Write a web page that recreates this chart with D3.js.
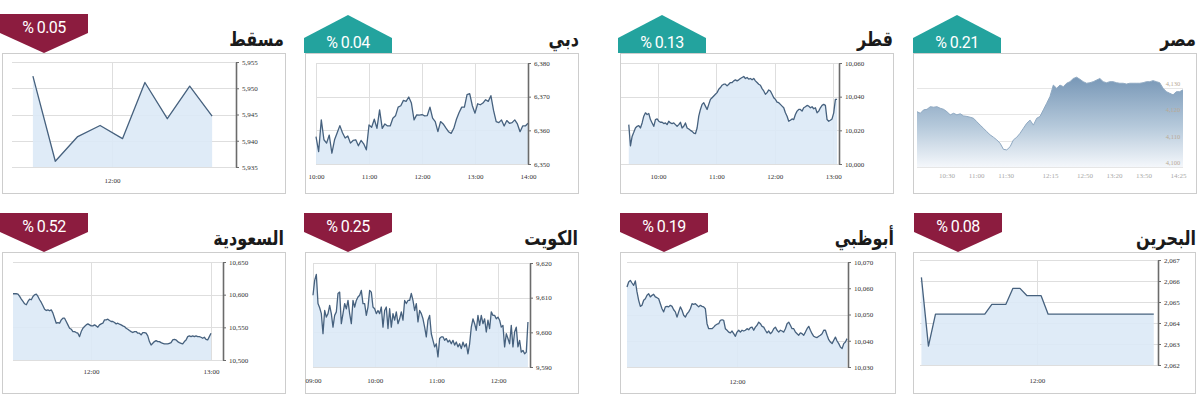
<!DOCTYPE html>
<html>
<head>
<meta charset="utf-8">
<script src="https://cdn.jsdelivr.net/npm/d3@7"></script>
<style>
  body { margin: 0; background: #fff; }
  svg { display: block; }
</style>
</head>
<body>
<script>
// markets, row by row, left to right
var markets = ["مسقط", "دبي", "قطر", "مصر", "السعودية", "الكويت", "أبوظبي", "البحرين"];
var changes = [-0.05, 0.04, 0.13, 0.21, -0.52, -0.25, -0.19, -0.08];

// trading window of each series (first and last reading)
var sessions = [
    ["11:07", "13:07"], ["10:00", "14:00"], ["9:30", "13:04"], ["10:00", "14:30"],
    ["11:21", "13:00"], ["9:00", "12:29"], ["10:00", "14:00"], ["10:38", "13:23"]
];

var xTickLabels = [
    ["12:00"],
    ["10:00", "11:00", "12:00", "13:00", "14:00"],
    ["10:00", "11:00", "12:00", "13:00"],
    ["10:30", "11:00", "11:30", "12:15", "12:50", "13:20", "13:50", "14:25"],
    ["12:00", "13:00"],
    ["09:00", "10:00", "11:00", "12:00"],
    ["12:00"],
    ["12:00"]
];

var yTickValues = [
    [5935, 5940, 5945, 5950, 5955],
    [6350, 6360, 6370, 6380],
    [10000, 10020, 10040, 10060],
    [4100, 4110, 4120, 4130],
    [10500, 10550, 10600, 10650],
    [9590, 9600, 9610, 9620],
    [10030, 10040, 10050, 10060, 10070],
    [2062, 2063, 2064, 2065, 2066, 2067]
];

var muscatValues = [5952.3, 5936.1, 5940.8, 5942.9, 5940.4, 5951.1, 5944.2, 5950.4, 5944.7];

var dubaiValues = [6358.1, 6353.7, 6363.1, 6357.2, 6356.2, 6358.6, 6353.2, 6357.2, 6359.3, 6361.4,
    6359.3, 6357.7, 6358.3, 6356.2, 6357.0, 6357.2, 6355.4, 6357.0, 6356.0, 6354.2,
    6361.6, 6360.9, 6363.3, 6360.6, 6366.1, 6360.6, 6361.9, 6361.3, 6361.3, 6363.6,
    6364.3, 6366.9, 6367.3, 6368.9, 6368.6, 6369.9, 6368.1, 6363.1, 6364.6, 6364.5,
    6364.7, 6364.3, 6364.4, 6366.9, 6363.6, 6362.6, 6359.6, 6362.6, 6361.9, 6360.7,
    6359.6, 6359.1, 6360.6, 6363.3, 6365.3, 6366.9, 6366.9, 6370.6, 6370.9, 6367.3,
    6365.1, 6367.9, 6367.6, 6368.1, 6369.1, 6368.6, 6370.3, 6365.9, 6362.6, 6362.3,
    6363.1, 6361.3, 6362.9, 6362.1, 6362.3, 6363.1, 6361.9, 6359.6, 6361.3, 6361.3, 6362.1];

var qatarValues = [10023.4, 10010.8, 10016.4, 10018.8, 10021.4, 10022.4, 10022.8, 10021.4, 10024.4, 10028.4,
    10030.4, 10029.4, 10030.0, 10026.4, 10024.4, 10022.4, 10026.4, 10026.8, 10025.4, 10024.8,
    10024.8, 10024.0, 10024.4, 10023.4, 10025.4, 10024.4, 10024.0, 10024.4, 10023.4, 10022.4,
    10023.4, 10024.8, 10021.4, 10022.4, 10024.4, 10021.4, 10020.8, 10020.0, 10019.4, 10018.4,
    10018.0, 10021.4, 10028.4, 10032.4, 10035.4, 10036.4, 10034.4, 10032.4, 10035.4, 10038.4,
    10039.4, 10040.4, 10041.4, 10042.4, 10044.4, 10045.4, 10046.8, 10047.4, 10047.4, 10046.4,
    10047.4, 10048.4, 10048.4, 10049.4, 10050.0, 10049.4, 10050.0, 10050.8, 10051.4, 10052.0,
    10050.8, 10051.4, 10050.4, 10050.8, 10050.0, 10050.8, 10049.4, 10048.4, 10047.4, 10046.8,
    10044.8, 10043.4, 10041.4, 10042.4, 10044.0, 10043.4, 10041.4, 10039.4, 10038.4, 10036.8,
    10036.4, 10035.4, 10034.4, 10033.4, 10030.4, 10028.4, 10025.4, 10026.0, 10026.8, 10026.4,
    10029.4, 10031.4, 10032.4, 10032.4, 10031.4, 10033.4, 10034.0, 10034.8, 10034.4, 10033.4,
    10034.0, 10032.8, 10033.4, 10030.4, 10031.4, 10033.4, 10034.8, 10035.4, 10034.8, 10026.4,
    10025.4, 10026.0, 10026.8, 10030.4, 10038.4, 10038.4];

var egyptValues = [4121.0, 4120.4, 4121.7, 4121.9, 4122.9, 4122.7, 4122.9, 4122.3, 4121.9, 4121.0,
    4119.8, 4120.4, 4119.8, 4120.2, 4119.4, 4119.2, 4118.9, 4118.5, 4117.2, 4115.9,
    4114.7, 4113.4, 4112.2, 4111.3, 4110.3, 4109.0, 4106.7, 4106.5, 4107.7, 4110.3,
    4111.3, 4112.8, 4114.7, 4116.6, 4117.8, 4115.9, 4118.5, 4119.2, 4121.7, 4124.2,
    4126.8, 4131.1, 4129.9, 4131.1, 4130.5, 4131.8, 4132.4, 4133.6, 4134.1, 4133.3,
    4132.4, 4131.8, 4132.0, 4132.4, 4133.0, 4133.6, 4132.4, 4132.0, 4132.4, 4132.4,
    4132.0, 4131.8, 4131.8, 4131.5, 4131.8, 4131.8, 4131.8, 4131.8, 4132.0, 4132.4,
    4132.4, 4132.8, 4132.4, 4132.0, 4129.9, 4128.6, 4128.0, 4127.4, 4128.6, 4128.6, 4129.3];

var saudiValues = [10601.4, 10601.4, 10601.4, 10600.9, 10597.3, 10593.2, 10589.6, 10586.0, 10584.5, 10589.6,
    10593.2, 10592.2, 10597.3, 10599.8, 10600.9, 10597.3, 10592.2, 10588.1, 10582.9, 10577.8,
    10575.8, 10576.8, 10575.3, 10576.8, 10571.7, 10564.0, 10556.3, 10557.3, 10556.3, 10561.4,
    10564.0, 10564.0, 10558.9, 10553.8, 10548.7, 10547.1, 10543.5, 10543.5, 10542.0, 10541.0,
    10535.8, 10543.5, 10548.7, 10551.2, 10553.8, 10555.3, 10553.8, 10552.2, 10552.2, 10553.8,
    10552.2, 10550.2, 10553.8, 10555.3, 10556.3, 10561.4, 10561.4, 10562.5, 10560.4, 10558.9,
    10558.9, 10557.3, 10555.3, 10556.3, 10554.8, 10553.8, 10552.2, 10551.2, 10548.7, 10547.1,
    10545.1, 10543.5, 10542.0, 10543.5, 10543.5, 10541.0, 10541.0, 10538.4, 10542.0, 10542.0,
    10541.0, 10536.9, 10528.2, 10523.0, 10525.6, 10528.2, 10529.7, 10528.2, 10528.2, 10526.6,
    10525.6, 10524.6, 10524.6, 10524.6, 10525.6, 10526.6, 10530.7, 10531.7, 10530.7, 10528.2,
    10526.6, 10525.6, 10524.6, 10528.2, 10530.7, 10535.8, 10536.9, 10535.8, 10536.9, 10535.8,
    10536.9, 10535.8, 10535.8, 10534.8, 10533.3, 10534.8, 10531.7, 10530.7, 10535.8, 10541.0];

var kuwaitValues = [9610.7, 9615.0, 9616.7, 9608.3, 9607.1, 9605.4, 9599.6, 9606.3, 9604.4, 9605.4,
    9607.8, 9605.4, 9601.5, 9604.9, 9605.9, 9611.2, 9611.6, 9602.5, 9605.4, 9608.3,
    9606.8, 9609.2, 9605.4, 9602.5, 9609.2, 9607.3, 9609.2, 9610.2, 9610.7, 9612.1,
    9608.3, 9608.3, 9604.9, 9607.3, 9612.1, 9611.6, 9607.3, 9606.8, 9605.4, 9606.3,
    9605.4, 9607.3, 9601.5, 9606.3, 9607.3, 9601.1, 9606.8, 9601.5, 9605.4, 9603.5,
    9605.9, 9602.5, 9603.9, 9605.9, 9603.5, 9609.2, 9608.3, 9609.2, 9609.2, 9611.2,
    9609.2, 9606.3, 9608.3, 9603.0, 9606.3, 9605.4, 9603.9, 9601.5, 9598.7, 9603.5,
    9604.9, 9599.6, 9597.7, 9595.8, 9596.7, 9592.9, 9598.2, 9598.7, 9598.7, 9597.7,
    9598.2, 9597.2, 9597.7, 9596.7, 9597.7, 9596.3, 9597.2, 9595.8, 9596.7, 9595.3,
    9597.2, 9595.8, 9596.7, 9593.8, 9596.7, 9601.5, 9603.9, 9602.5, 9600.6, 9604.9,
    9602.0, 9604.9, 9602.5, 9603.9, 9600.1, 9603.5, 9601.1, 9605.9, 9604.9, 9604.9,
    9603.9, 9604.4, 9603.5, 9601.5, 9602.0, 9595.8, 9599.6, 9598.2, 9596.7, 9602.0,
    9595.8, 9600.1, 9601.5, 9595.8, 9597.7, 9594.3, 9594.8, 9593.8, 9594.3, 9603.0];

var abuDhabiValues = [10060.5, 10062.4, 10063.0, 10062.0, 10061.1, 10062.8, 10058.6, 10055.4, 10053.1, 10053.5,
    10055.4, 10056.0, 10057.3, 10057.9, 10056.7, 10057.3, 10057.7, 10056.7, 10056.4, 10056.0,
    10054.1, 10052.2, 10051.0, 10052.9, 10053.1, 10052.9, 10053.5, 10053.1, 10051.8, 10051.0,
    10049.0, 10051.0, 10052.9, 10051.6, 10049.7, 10049.0, 10050.3, 10051.0, 10052.2, 10054.1,
    10053.9, 10054.1, 10053.5, 10052.9, 10053.5, 10053.1, 10052.9, 10052.2, 10046.5, 10044.6,
    10044.6, 10044.6, 10045.2, 10045.9, 10046.3, 10046.5, 10047.8, 10048.0, 10047.8, 10044.6,
    10044.0, 10043.3, 10043.0, 10043.7, 10042.7, 10041.7, 10043.3, 10044.0, 10043.3, 10044.0,
    10043.7, 10044.0, 10044.6, 10044.2, 10045.0, 10045.2, 10044.0, 10045.2, 10045.9, 10047.1,
    10046.5, 10045.5, 10045.2, 10044.0, 10043.0, 10043.7, 10042.7, 10043.3, 10044.6, 10045.2,
    10044.0, 10043.3, 10044.0, 10043.7, 10043.3, 10044.6, 10046.5, 10047.1, 10045.9, 10044.6,
    10044.6, 10043.3, 10042.7, 10042.1, 10043.0, 10042.7, 10042.1, 10043.3, 10044.6, 10045.5,
    10044.0, 10042.7, 10041.7, 10041.4, 10041.2, 10041.7, 10042.1, 10042.7, 10044.0, 10044.0,
    10042.1, 10040.4, 10039.5, 10038.9, 10040.2, 10041.4, 10039.9, 10038.9, 10037.6, 10037.0,
    10038.9, 10039.5, 10040.8];

var bahrainValues = [2066.17, 2062.90,
    2064.42, 2064.42, 2064.42, 2064.42, 2064.42, 2064.42, 2064.42, 2064.42,
    2064.89, 2064.89, 2064.89, 2065.65, 2065.65, 2065.30, 2065.30, 2065.30,
    2064.42, 2064.42, 2064.42, 2064.42, 2064.42, 2064.42, 2064.42, 2064.42,
    2064.42, 2064.42, 2064.42, 2064.42, 2064.42, 2064.42, 2064.42, 2064.42];

var seriesValues = [muscatValues, dubaiValues, qatarValues, egyptValues,
    saudiValues, kuwaitValues, abuDhabiValues, bahrainValues];

// page geometry of each panel: dotted box, plot [left, right(axis), top, bottom], x window
var layout = [
    {box: [2, 53, 285, 193], plot: [12, 236, 62, 167], dom: ["10:53", "13:23"], badge: 0, title: 284, labelY: 184},
    {box: [305, 53, 578, 193], plot: [316, 528, 63, 164], dom: ["10:00", "14:00"], badge: 304, title: 579, labelY: 180},
    {box: [620, 53, 893, 193], plot: [621, 839, 63, 164], dom: ["9:22", "13:06"], badge: 618, title: 893, labelY: 180},
    {box: [913, 53, 1196, 193], plot: [917, 1183, 88, 167], dom: ["10:00", "14:30"], badge: 913, title: 1196, labelY: 179, soft: true},
    {box: [2, 252, 285, 393], plot: [13, 223, 262, 360], dom: ["11:21", "13:06"], badge: 0, title: 284, labelY: 375},
    {box: [305, 252, 578, 393], plot: [313, 530, 263, 367], dom: ["9:00", "12:31"], badge: 304, title: 578, labelY: 384},
    {box: [620, 252, 895, 393], plot: [627, 848, 262, 367], dom: ["10:00", "14:01"], badge: 620, title: 894, labelY: 385},
    {box: [913, 252, 1195, 393], plot: [920, 1158, 260, 365], dom: ["10:37", "13:26"], badge: 914, title: 1196, labelY: 384}
];

var UP = "#23a39e", DOWN = "#8c1c3f";

function parse(s) {
    var p = s.split(":");
    return +p[0] * 60 + +p[1];
}

var svg = d3.select("body").append("svg")
    .attr("width", 1200)
    .attr("height", 397);

var defs = svg.append("defs");
defs.append("linearGradient")
    .attr("id", "softFill")
    .attr("gradientUnits", "userSpaceOnUse")
    .attr("x1", 0).attr("y1", 75).attr("x2", 0).attr("y2", 167)
    .selectAll("stop")
    .data([["0%", "#7595b5"], ["55%", "#b4c8da"], ["100%", "#f4f7fb"]])
    .enter().append("stop")
    .attr("offset", function (d) { return d[0]; })
    .attr("stop-color", function (d) { return d[1]; });

layout.forEach(function (L, i) {
    var g = svg.append("g");
    var rowTop = L.box[1] - 53;
    var vals = seriesValues[i];
    var t0 = parse(sessions[i][0]), t1 = parse(sessions[i][1]);
    var pts = vals.map(function (v, k) {
        return {t: t0 + k * (t1 - t0) / (vals.length - 1), v: v};
    });
    var yt = yTickValues[i];

    var x = d3.scaleLinear().domain(L.dom.map(parse)).range([L.plot[0], L.plot[1]]);
    var y = d3.scaleLinear().domain([yt[0], yt[yt.length - 1]]).range([L.plot[3], L.plot[2]]);

    // dotted frame
    g.append("rect")
        .attr("x", L.box[0] + 0.5).attr("y", L.box[1] + 0.5)
        .attr("width", L.box[2] - L.box[0]).attr("height", L.box[3] - L.box[1])
        .attr("fill", "none")
        .attr("stroke", "#9a9a9a")
        .attr("stroke-dasharray", "1,1");

    // grid
    g.selectAll(".hgrid").data(yt).enter().append("line")
        .attr("x1", L.plot[0]).attr("x2", L.plot[1])
        .attr("y1", function (d) { return Math.round(y(d)) + 0.5; })
        .attr("y2", function (d) { return Math.round(y(d)) + 0.5; })
        .attr("stroke", L.soft ? "#e6e6e6" : "#dedede");

    if (!L.soft) {
        g.selectAll(".vgrid").data(xTickLabels[i]).enter().append("line")
            .attr("x1", function (d) { return Math.round(x(parse(d))) + 0.5; })
            .attr("x2", function (d) { return Math.round(x(parse(d))) + 0.5; })
            .attr("y1", L.plot[2]).attr("y2", L.plot[3])
            .attr("stroke", "#dedede");
    }

    var area = d3.area()
        .x(function (d) { return x(d.t); })
        .y0(L.plot[3])
        .y1(function (d) { return y(d.v); });
    var line = d3.line()
        .x(function (d) { return x(d.t); })
        .y(function (d) { return y(d.v); });

    g.append("path").datum(pts)
        .attr("d", area)
        .attr("fill", L.soft ? "url(#softFill)" : "#dbe9f6")
        .attr("opacity", L.soft ? 1 : 0.9);
    g.append("path").datum(pts)
        .attr("d", line)
        .attr("fill", "none")
        .attr("stroke", L.soft ? "#8fa9c2" : "#46617e")
        .attr("stroke-width", L.soft ? 1 : 1.3)
        .attr("stroke-linejoin", "round");

    if (L.soft) {
        // faint labels inside the plot, no axis line
        g.selectAll(".ylab").data(yt).enter().append("text")
            .attr("x", 1173).attr("y", function (d) { return y(d) - 2; })
            .attr("text-anchor", "middle")
            .attr("font-family", "Liberation Serif, serif")
            .attr("font-size", 6.5)
            .attr("fill", "#b9aa96")
            .text(d3.format(","));
    } else {
        var yAxis = d3.axisRight(y).tickValues(yt).tickSize(3).tickSizeOuter(0)
            .tickFormat(d3.format(","));
        var ag = g.append("g")
            .attr("transform", "translate(" + L.plot[1] + ",0)")
            .call(yAxis);
        ag.select(".domain").attr("stroke", "#6b6b6b").attr("stroke-width", 1.6);
        ag.selectAll(".tick line").attr("stroke", "#6b6b6b");
        ag.selectAll("text")
            .attr("x", 6)
            .attr("font-family", "Liberation Serif, serif")
            .attr("font-size", 7)
            .attr("fill", "#333");
    }

    // time labels
    var xAxis = d3.axisBottom(x)
        .tickValues(xTickLabels[i].map(parse))
        .tickSize(0)
        .tickFormat(function (d, k) { return xTickLabels[i][k]; });
    var xg = g.append("g")
        .attr("transform", "translate(0," + (L.labelY - 6) + ")")
        .call(xAxis);
    xg.select(".domain").remove();
    xg.selectAll("text")
        .attr("y", 0).attr("dy", "0.7em")
        .attr("font-family", "Liberation Serif, serif")
        .attr("font-size", 7)
        .attr("fill", L.soft ? "#a8a8a8" : "#333");

    // market name (narrowed, the original face is more compact)
    g.append("text")
        .attr("transform", "translate(" + L.title + "," + (rowTop + 46) + ") scale(0.8,1)")
        .attr("text-anchor", "end")
        .attr("font-family", "DejaVu Sans, sans-serif")
        .attr("font-weight", "bold")
        .attr("font-size", 20)
        .attr("fill", "#1a1a1a")
        .text(markets[i]);

    // change badge
    var c = changes[i], bx = L.badge, bw = 88;
    var shape, ty;
    if (c < 0) {
        shape = [[bx, rowTop + 14], [bx + bw, rowTop + 14], [bx + bw, rowTop + 33],
            [bx + bw / 2, rowTop + 53], [bx, rowTop + 33]];
        ty = rowTop + 33;
    } else {
        shape = [[bx, rowTop + 53], [bx, rowTop + 38], [bx + bw / 2, rowTop + 15],
            [bx + bw, rowTop + 38], [bx + bw, rowTop + 53]];
        ty = rowTop + 48;
    }
    g.append("path")
        .attr("d", d3.line()(shape) + "Z")
        .attr("fill", c < 0 ? DOWN : UP);
    g.append("text")
        .attr("x", bx + bw / 2).attr("y", ty)
        .attr("text-anchor", "middle")
        .attr("font-family", "Roboto, sans-serif")
        .attr("font-size", 16)
        .attr("letter-spacing", -0.6)
        .attr("fill", "#fff")
        .text("% " + Math.abs(c).toFixed(2));
});
</script>
</body>
</html>
